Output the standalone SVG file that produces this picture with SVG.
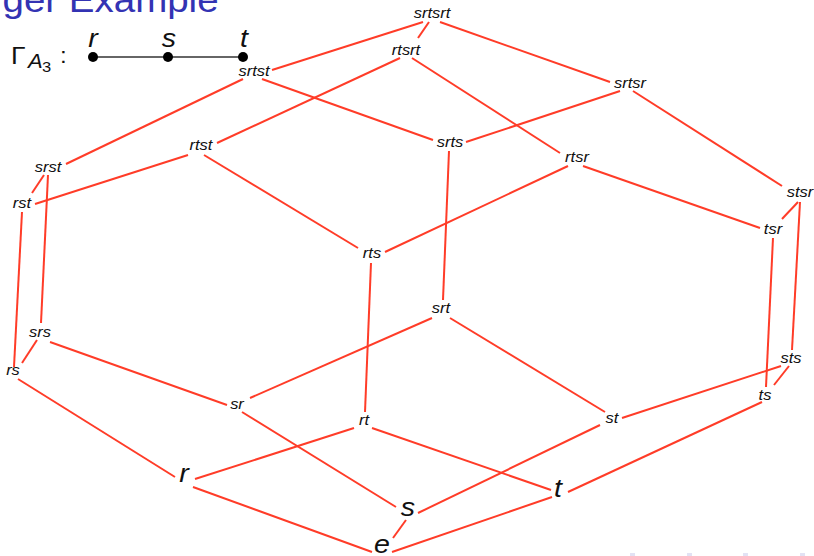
<svg xmlns="http://www.w3.org/2000/svg" width="814" height="556" viewBox="0 0 814 556">
  <style>
    .title { font-family: "Liberation Sans", Arial, sans-serif; font-size: 35px; fill: #3333b3; }
    .lbl { font-family: "Liberation Sans", Arial, sans-serif; font-style: italic; font-size: 15px; fill: #111; text-anchor: middle; }
    .big { font-family: "Liberation Sans", Arial, sans-serif; font-style: italic; font-size: 26px; fill: #111; text-anchor: middle; }
    .math { font-family: "Liberation Sans", Arial, sans-serif; fill: #111; }
    .edges line { stroke: #ff3c28; stroke-width: 2; stroke-linecap: butt; }
    .nav { fill: #e2e2f4; }
  </style>

  <rect width="814" height="556" fill="#ffffff"/>

  <!-- slide title (clipped at top edge) -->
  <text class="title" transform="matrix(1.1 0 0 1 2.5 12)">ger Example</text>

  <!-- Coxeter graph Gamma_{A_3} -->
  <g id="coxeter-graph">
    <text class="math" font-size="24" transform="matrix(1.1 0 0 1 11 64)">Γ</text>
    <text class="math" font-size="20" font-style="italic" transform="matrix(1.1 0 0 1 28 68)">A</text>
    <text class="math" font-size="15" transform="matrix(1.1 0 0 1 42 72)">3</text>
    <text class="math" font-size="22" transform="matrix(1.1 0 0 1 60 63)">:</text>
    <line x1="93" y1="57" x2="243" y2="57" stroke="#333" stroke-width="1.3"/>
    <circle cx="93" cy="57" r="5" fill="#000"/>
    <circle cx="168" cy="57" r="5" fill="#000"/>
    <circle cx="243" cy="57" r="5" fill="#000"/>
    <text class="big" transform="matrix(1.1 0 0 1 93 47)">r</text>
    <text class="big" transform="matrix(1.1 0 0 1 169 47)">s</text>
    <text class="big" transform="matrix(1.1 0 0 1 244 47)">t</text>
  </g>

  <!-- Hasse diagram edges -->
  <g class="edges" id="edges">
    <line x1="423" y1="22" x2="272" y2="70"/>
    <line x1="429" y1="22" x2="418" y2="38"/>
    <line x1="440" y1="22" x2="610" y2="82"/>
    <line x1="400" y1="58" x2="217" y2="143"/>
    <line x1="412" y1="58" x2="560" y2="153"/>
    <line x1="243" y1="79" x2="66" y2="164"/>
    <line x1="262" y1="79" x2="433" y2="140"/>
    <line x1="620" y1="91" x2="466" y2="142"/>
    <line x1="633" y1="91" x2="782" y2="186"/>
    <line x1="568" y1="166" x2="385" y2="252"/>
    <line x1="583" y1="166" x2="760" y2="228"/>
    <line x1="188" y1="155" x2="35" y2="204"/>
    <line x1="204" y1="155" x2="358" y2="248"/>
    <line x1="44" y1="175" x2="32" y2="193"/>
    <line x1="48" y1="175" x2="41" y2="323"/>
    <line x1="22" y1="212" x2="14" y2="367"/>
    <line x1="37" y1="340" x2="22" y2="363"/>
    <line x1="50" y1="342" x2="227" y2="405"/>
    <line x1="18" y1="379" x2="175" y2="477"/>
    <line x1="449" y1="151" x2="443" y2="300"/>
    <line x1="371" y1="263" x2="365" y2="412"/>
    <line x1="432" y1="318" x2="250" y2="398"/>
    <line x1="450" y1="318" x2="605" y2="412"/>
    <line x1="798" y1="202" x2="782" y2="219"/>
    <line x1="800" y1="202" x2="792" y2="350"/>
    <line x1="773" y1="238" x2="766" y2="387"/>
    <line x1="789" y1="366" x2="774" y2="385"/>
    <line x1="781" y1="366" x2="622" y2="418"/>
    <line x1="762" y1="402" x2="568" y2="492"/>
    <line x1="242" y1="412" x2="396" y2="507"/>
    <line x1="354" y1="428" x2="195" y2="479"/>
    <line x1="372" y1="428" x2="551" y2="490"/>
    <line x1="600" y1="425" x2="418" y2="513"/>
    <line x1="193" y1="487" x2="372" y2="552"/>
    <line x1="406" y1="520" x2="393" y2="538"/>
    <line x1="552" y1="497" x2="392" y2="552"/>
  </g>

  <!-- Hasse diagram nodes (group elements) -->
  <g id="n-srtsrt"><text class="lbl" transform="matrix(1.1 0 0 1 432 18)">srtsrt</text></g>
  <g id="n-rtsrt"><text class="lbl" transform="matrix(1.1 0 0 1 406 55)">rtsrt</text></g>
  <g id="n-srtst"><text class="lbl" transform="matrix(1.1 0 0 1 254 76)">srtst</text></g>
  <g id="n-srtsr"><text class="lbl" transform="matrix(1.1 0 0 1 630 88)">srtsr</text></g>
  <g id="n-rtst"><text class="lbl" transform="matrix(1.1 0 0 1 201 150)">rtst</text></g>
  <g id="n-srts"><text class="lbl" transform="matrix(1.1 0 0 1 450 147)">srts</text></g>
  <g id="n-rtsr"><text class="lbl" transform="matrix(1.1 0 0 1 577 162)">rtsr</text></g>
  <g id="n-srst"><text class="lbl" transform="matrix(1.1 0 0 1 48 172)">srst</text></g>
  <g id="n-stsr"><text class="lbl" transform="matrix(1.1 0 0 1 800 197)">stsr</text></g>
  <g id="n-rst"><text class="lbl" transform="matrix(1.1 0 0 1 22 208)">rst</text></g>
  <g id="n-tsr"><text class="lbl" transform="matrix(1.1 0 0 1 773 234)">tsr</text></g>
  <g id="n-rts"><text class="lbl" transform="matrix(1.1 0 0 1 372 258)">rts</text></g>
  <g id="n-srt"><text class="lbl" transform="matrix(1.1 0 0 1 441 313)">srt</text></g>
  <g id="n-srs"><text class="lbl" transform="matrix(1.1 0 0 1 40 337)">srs</text></g>
  <g id="n-sts"><text class="lbl" transform="matrix(1.1 0 0 1 791 363)">sts</text></g>
  <g id="n-rs"><text class="lbl" transform="matrix(1.1 0 0 1 13 375)">rs</text></g>
  <g id="n-ts"><text class="lbl" transform="matrix(1.1 0 0 1 765 400)">ts</text></g>
  <g id="n-sr"><text class="lbl" transform="matrix(1.1 0 0 1 237 409)">sr</text></g>
  <g id="n-rt"><text class="lbl" transform="matrix(1.1 0 0 1 364 425)">rt</text></g>
  <g id="n-st"><text class="lbl" transform="matrix(1.1 0 0 1 612 423)">st</text></g>
  <g id="n-r"><text class="big" transform="matrix(1.1 0 0 1 184 482)">r</text></g>
  <g id="n-t"><text class="big" transform="matrix(1.1 0 0 1 558 497)">t</text></g>
  <g id="n-s"><text class="big" transform="matrix(1.1 0 0 1 408 516)">s</text></g>
  <g id="n-e"><text class="big" transform="matrix(1.1 0 0 1 382 553)">e</text></g>

  <!-- faint navigation marks along the bottom edge -->
  <g id="nav">
    <rect class="nav" x="630" y="553" width="5" height="3"/>
    <rect class="nav" x="687" y="553" width="5" height="3"/>
    <rect class="nav" x="743" y="553" width="5" height="3"/>
    <rect class="nav" x="800" y="553" width="5" height="3"/>
  </g>
</svg>
